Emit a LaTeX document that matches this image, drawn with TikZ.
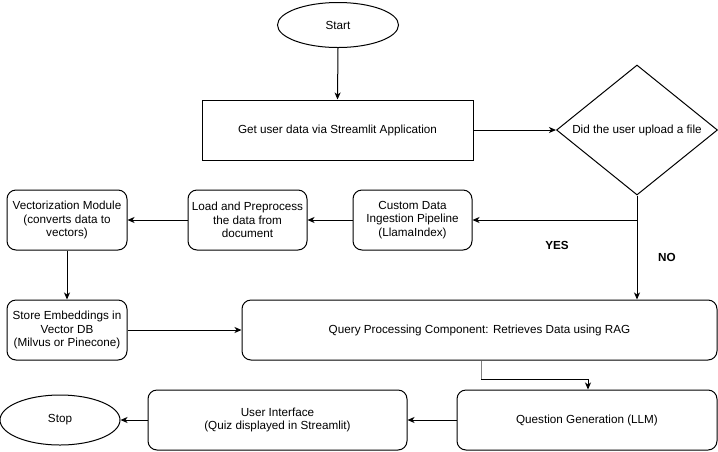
\documentclass[tikz,border=0pt]{standalone}
\usepackage{fontspec}
\setmainfont{Liberation Sans}
\usetikzlibrary{shapes.geometric,arrows.meta}
\begin{document}
\begin{tikzpicture}[x=1pt,y=-1pt,
  every node/.style={font=\fontsize{11.7}{13.6}\selectfont, align=center, inner sep=0pt},
  box/.style={draw, line width=1pt, rounded corners=9pt},
  sqbox/.style={draw, line width=1pt},
  term/.style={draw, ellipse, line width=1pt},
  dec/.style={draw, diamond, line width=1pt, aspect=1.24},
  conn/.style={line width=1pt, -{Stealth[length=7pt,width=6pt,inset=2pt]}},
  lbl/.style={font=\fontsize{11.7}{13.6}\selectfont\bfseries}]
\useasboundingbox (0,0) rectangle (718,451);
\node[term, minimum width=121, minimum height=45] (start) at (338,25) {Start};
\node[sqbox, minimum width=271, minimum height=60] (get) at (337.5,130) {Get user data via Streamlit Application};
\node[draw, line width=1pt, shape=diamond, minimum width=161, minimum height=130, inner sep=0pt] (dec) at (637,130) {};
\node at (637,130) {Did the user upload a file};
\node[box, minimum width=119, minimum height=60] (ingest) at (412.5,220) {Custom Data\\Ingestion Pipeline\\(LlamaIndex)};
\node[box, minimum width=119, minimum height=60] (load) at (247.5,220) {Load and Preprocess\\the data from\\document};
\node[box, minimum width=120, minimum height=60] (vect) at (67,220) {Vectorization Module\\(converts data to\\vectors)};
\node[box, minimum width=120, minimum height=60] (store) at (67,330) {Store Embeddings in\\Vector DB\\(Milvus or Pinecone)};
\node[box, minimum width=475, minimum height=60] (query) at (479.5,330) {Query Processing Component: Retrieves Data using RAG};
\node[box, minimum width=260, minimum height=60] (qgen) at (587,420) {Question Generation (LLM)};
\node[box, minimum width=259, minimum height=60] (ui) at (277.5,420) {User Interface\\(Quiz displayed in Streamlit)};
\node[term, minimum width=120, minimum height=50] (stop) at (60,420) {Stop};
\node[lbl] (yes) at (557,245) {YES};
\node[lbl] (no) at (667,257) {NO};
\coordinate (split) at (637,220);
\coordinate (bend1) at (481,379);
\coordinate (bend2) at (588,379);
\draw[conn] (start.south) -- (get.north);
\draw[conn] (get.east) -- (dec.west);
\draw[conn] (dec.south) -- (query.north -| dec.south);
\draw[conn] (split) -- (ingest.east);
\draw[conn] (ingest.west) -- (load.east);
\draw[conn] (load.west) -- (vect.east);
\draw[conn] (vect.south) -- (store.north);
\draw[conn] (store.east) -- (query.west);
\draw[conn] (query.south -| bend1) -- (bend1) -- (bend2) -- (qgen.north -| bend2);
\draw[line width=1pt, gray] (query.south -| bend1) -- (bend1);
\draw[conn] (qgen.west) -- (ui.east);
\draw[conn] (ui.west) -- (stop.east);
\end{tikzpicture}
\end{document}
